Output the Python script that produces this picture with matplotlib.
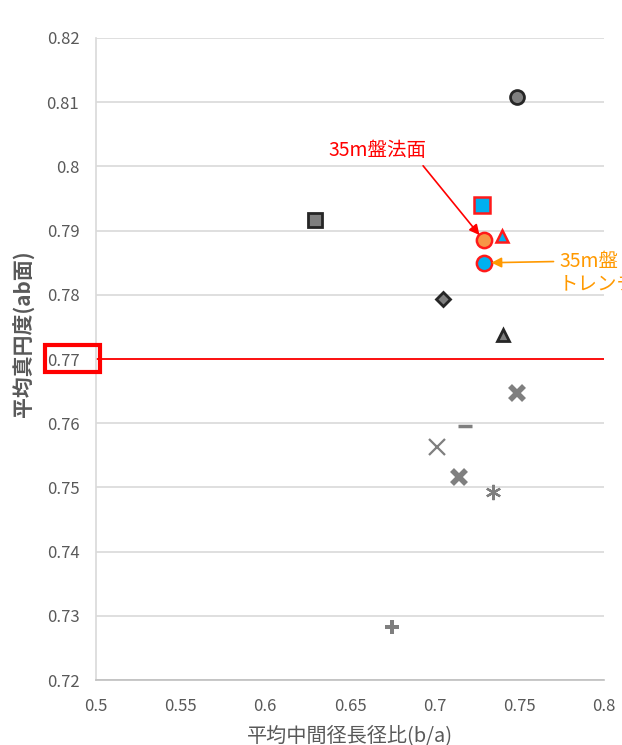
import matplotlib.pyplot as plt
from matplotlib.patches import Rectangle

plt.rcParams['font.family'] = ['Noto Sans CJK JP', 'DejaVu Sans']

# 平均中間径長径比 (b/a) と 平均真円度 (ab面)
gray_x = [0.7486, 0.6293, 0.705, 0.7404]
gray_y = [0.8108, 0.7917, 0.7793, 0.7737]
gray_m = ['o', 's', 'D', '^']
gray_ms = [10, 10, 7, 8]

site_x = [0.728, 0.7291, 0.7398, 0.729]
site_y = [0.794, 0.7885, 0.7892, 0.785]
site_m = ['s', 'o', '^', 'o']
site_c = ['#00b0f0', '#f79646', '#00b0f0', '#00b0f0']

line_x = [0.7486, 0.718, 0.7014, 0.7144, 0.7345, 0.6748]
line_y = [0.7647, 0.7596, 0.7563, 0.7516, 0.7493, 0.7283]
line_m = ['x', '_', 'x', 'x', (6, 2, 0), 'P']
line_ms = [10, 10, 11, 10, 11, 10]
line_mew = [4, 2.5, 1.6, 4, 1.6, 0]

threshold = 0.77
yticks = [0.72, 0.73, 0.74, 0.75, 0.76, 0.77, 0.78, 0.79, 0.8, 0.81, 0.82]
xticks = [0.5, 0.55, 0.6, 0.65, 0.7, 0.75, 0.8]

fig = plt.figure(figsize=(6.22, 7.45), dpi=100)
ax = fig.add_axes([0.1543, 0.0872, 0.8167, 0.8618])

ax.axhline(threshold, color='#ff0000', lw=1.3, zorder=2)

for x, y, m, s in zip(gray_x, gray_y, gray_m, gray_ms):
    ax.plot(x, y, marker=m, ms=s, mfc='#7f7f7f', mec='#262626', mew=2, ls='none', zorder=3)

for x, y, m, c in zip(site_x, site_y, site_m, site_c):
    ax.plot(x, y, marker=m, ms=11 if m != '^' else 9, mfc=c, mec='#ff1a1a', mew=1.8,
            ls='none', zorder=3)

for x, y, m, ms, mew in zip(line_x, line_y, line_m, line_ms, line_mew):
    ax.plot(x, y, marker=m, ms=ms, mfc='#7f7f7f', mec='#7f7f7f', mew=mew, ls='none', zorder=3)

ax.set_xlim(0.5, 0.8)
ax.set_ylim(0.72, 0.82)
ax.set_xticks(xticks)
ax.set_xticklabels([f'{v:g}' for v in xticks])
ax.set_yticks(yticks)
ax.set_yticklabels([f'{v:g}' for v in yticks])
ax.yaxis.grid(True, color='#d9d9d9', lw=1.2)
ax.set_axisbelow(True)
for side in ['top', 'right']:
    ax.spines[side].set_visible(False)
ax.spines['left'].set_color('#d9d9d9')
ax.spines['bottom'].set_color('#bfbfbf')
ax.spines['left'].set_linewidth(1.2)
ax.spines['bottom'].set_linewidth(1.2)
ax.tick_params(length=0, labelsize=12, labelcolor='#595959', pad=12)
ax.tick_params(axis='x', pad=13)

ax.set_xlabel('平均中間径長径比(b/a)', fontsize=14.5, color='#595959', labelpad=7)
ax.set_ylabel('平均真円度(ab面)', fontsize=15, color='#595959', fontweight='bold')
ax.yaxis.set_label_coords(-0.12, 0.54)

ax.annotate('35m盤法面', xy=(0.7265, 0.7893), xytext=(0.6665, 0.8025),
            color='#ff0000', fontsize=14, ha='center', va='center',
            arrowprops=dict(arrowstyle='-|>', color='#ff0000', lw=1.2,
                            shrinkA=2, shrinkB=0, mutation_scale=15,
                            relpos=(0.92, 0)))
ax.annotate('35m盤\nトレンチ', xy=(0.7335, 0.785), xytext=(0.7735, 0.7835),
            color='#ff9900', fontsize=14, ha='left', va='center', linespacing=1.1,
            annotation_clip=False,
            arrowprops=dict(arrowstyle='-|>', color='#ff9900', lw=1.2,
                            shrinkA=2, shrinkB=0, mutation_scale=15,
                            relpos=(0, 0.75)))

fig.patches.append(Rectangle((45 / 622, 1 - 372 / 745), 55 / 622, 27 / 745,
                             transform=fig.transFigure, fill=False,
                             edgecolor='#ff0000', lw=3, zorder=5))

fig.savefig('out.png', dpi=100)
